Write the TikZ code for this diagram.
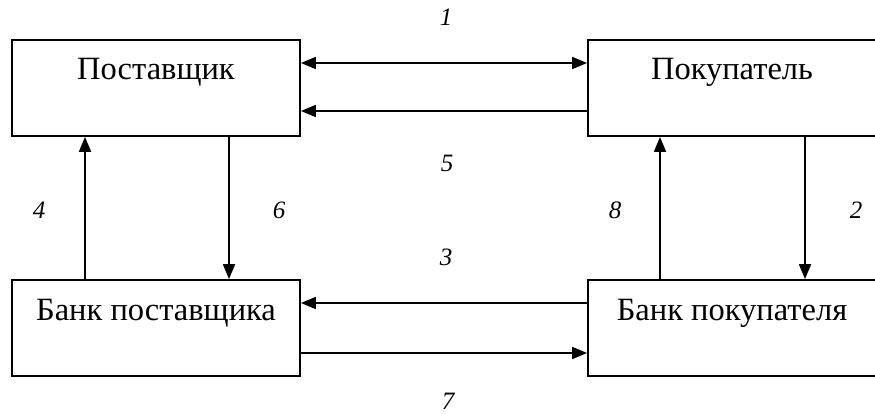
\documentclass[tikz,border=0pt]{standalone}
\usepackage{fontspec}
\setmainfont{Liberation Serif}
\usetikzlibrary{arrows.meta}
\begin{document}
\begin{tikzpicture}[x=1pt,y=-1pt,
  box/.style={draw,line width=1.8pt,minimum width=288pt,minimum height=96pt,
    inner sep=0pt,text height=22pt,text depth=38pt,font=\fontsize{32.5}{36}\selectfont},
  lab/.style={font=\fontsize{25}{28}\selectfont\itshape,inner sep=0pt},
  tip/.style={Triangle[length=15pt,width=12pt]},
  conn/.style={line width=1.8pt,-{Triangle[length=15pt,width=12pt]}},
  dconn/.style={line width=1.8pt,{Triangle[length=15pt,width=12pt]}-{Triangle[length=15pt,width=12pt]}}]
\clip (0,0) rectangle (875,414);
\fill[white] (0,0) rectangle (875,414);
\node[box] (sup) at (156,88) {Поставщик};
\node[box] (buy) at (732,88) {Покупатель};
\node[box] (bsup) at (156,328) {Банк поставщика};
\node[box] (bbuy) at (732,328) {Банк покупателя};
% horizontal
\draw[dconn] ([yshift=25pt]sup.east) -- ([yshift=25pt]buy.west);
\draw[conn] ([yshift=-23pt]buy.west) -- ([yshift=-23pt]sup.east);
\draw[conn] ([yshift=25pt]bbuy.west) -- ([yshift=25pt]bsup.east);
\draw[conn] ([yshift=-25pt]bsup.east) -- ([yshift=-25pt]bbuy.west);
% vertical
\draw[conn] ([xshift=-71pt]bsup.north) -- ([xshift=-71pt]sup.south);
\draw[conn] ([xshift=73pt]sup.south) -- ([xshift=73pt]bsup.north);
\draw[conn] ([xshift=-72pt]bbuy.north) -- ([xshift=-72pt]buy.south);
\draw[conn] ([xshift=73pt]buy.south) -- ([xshift=73pt]bbuy.north);
% labels
\node[lab] (l1) at (446,17) {1};
\node[lab] (l5) at (447,163) {5};
\node[lab] (l4) at (39,210) {4};
\node[lab] (l6) at (279,210) {6};
\node[lab] (l8) at (615,210) {8};
\node[lab] (l2) at (856,210) {2};
\node[lab] (l3) at (446,257) {3};
\node[lab] (l7) at (448,401) {7};
\end{tikzpicture}
\end{document}
